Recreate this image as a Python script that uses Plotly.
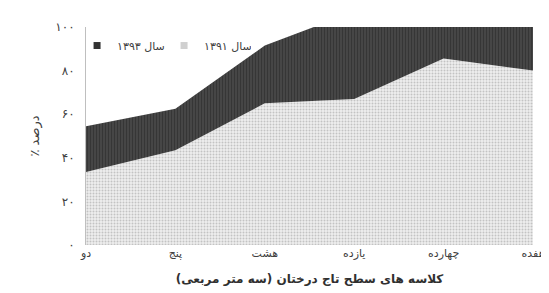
import plotly.graph_objects as go

categories = ["دو", "پنج", "هشت", "یازده", "چهارده", "هفده"]
year_1391 = [33.5, 43.5, 65, 67, 85.5, 80]
year_1393 = [21, 19, 26.5, 40, 20, 22]
series_names = ["سال ۱۳۹۱", "سال ۱۳۹۳"]
y_ticks = [0, 20, 40, 60, 80, 100]
y_tick_labels = ["۰", "۲۰", "۴۰", "۶۰", "۸۰", "۱۰۰"]

FONT = "DejaVu Sans, sans-serif"
LIGHT = "#d0d0d0"
DARK = "#333333"

fig = go.Figure()
fig.add_trace(go.Scatter(
    x=categories, y=year_1391, name=series_names[0], mode="lines",
    stackgroup="one", line=dict(width=0, color=LIGHT), showlegend=False,
    fillcolor="#e6e6e6",
    fillpattern=dict(shape=".", fgcolor="#9a9a9a", bgcolor="#ededed", size=3, solidity=0.35),
))
fig.add_trace(go.Scatter(
    x=categories, y=year_1393, name=series_names[1], mode="lines",
    stackgroup="one", line=dict(width=0, color=DARK), showlegend=False,
    fillcolor="#3a3a3a",
    fillpattern=dict(shape="|", fgcolor="#222222", bgcolor="#4a4a4a", size=3, solidity=0.5),
))
# legend entries (square swatches)
fig.add_trace(go.Scatter(x=[None], y=[None], mode="markers", name=series_names[1],
                         marker=dict(symbol="square", size=7, color=DARK)))
fig.add_trace(go.Scatter(x=[None], y=[None], mode="markers", name=series_names[0],
                         marker=dict(symbol="square", size=7, color=LIGHT,
                                     line=dict(width=0))))

fig.update_layout(
    width=549, height=293,
    margin=dict(l=78, r=14, t=16, b=56),
    paper_bgcolor="white", plot_bgcolor="white",
    font=dict(family=FONT, size=12, color="#404040"),
    showlegend=True,
    legend=dict(orientation="h", x=-0.02, y=0.915, xanchor="left", yanchor="middle",
                bgcolor="rgba(0,0,0,0)", traceorder="normal",
                entrywidth=42, entrywidthmode="pixels",
                font=dict(size=11, color="#404040"), itemwidth=30),
    xaxis=dict(type="category", range=[0, len(categories) - 1], showgrid=False,
               showline=False, ticks="", zeroline=False,
               tickfont=dict(size=11, color="#404040"),
               title=dict(text="<b>کلاسه های سطح تاج درختان (سه متر مربعی)</b>",
                          font=dict(size=12, color="#303030"), standoff=15)),
    yaxis=dict(range=[0, 100], tickvals=y_ticks, ticktext=y_tick_labels,
               showgrid=False, zeroline=False, showline=True, linecolor="#bfbfbf",
               linewidth=1, ticks="", ticklabelstandoff=8,
               tickfont=dict(size=12, color="#404040"),
               title=dict(text="٪ درصد", font=dict(size=13, color="#404040"), standoff=12)),
)

fig.write_html("out.html")
